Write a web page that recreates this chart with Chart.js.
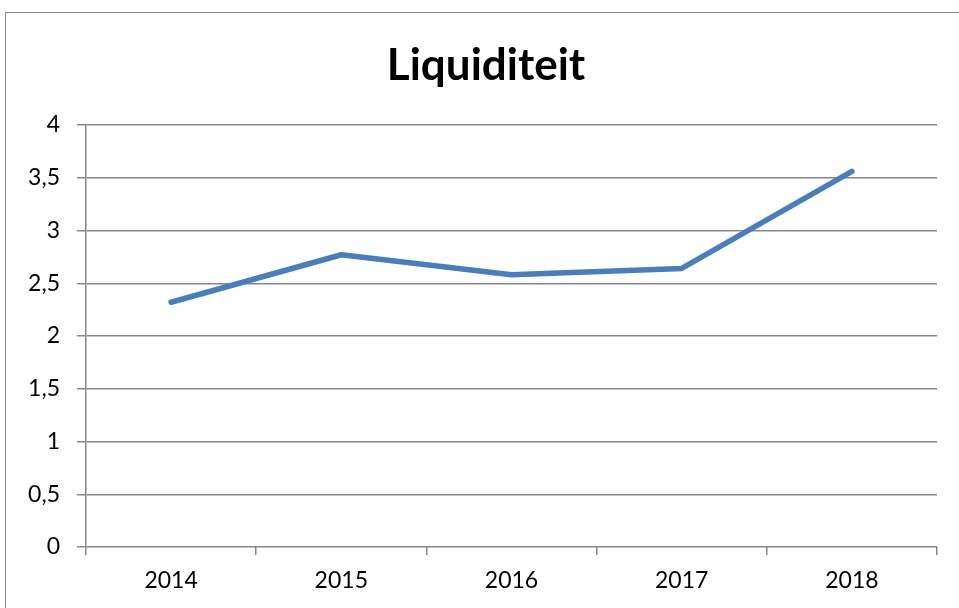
<!DOCTYPE html>
<html>
<head>
<meta charset="utf-8">
<script src="https://cdn.jsdelivr.net/npm/chart.js@4"></script>
<style>
html,body{margin:0;padding:0;background:#fff;}
#wrap{position:relative;width:959px;height:608px;overflow:hidden;}
#frame{position:absolute;left:5px;top:12px;width:1000px;height:700px;border:1.5px solid #8c8c8c;box-sizing:border-box;}
canvas{position:absolute;left:0;top:0;}
</style>
</head>
<body>
<div id="wrap">
<div id="frame"></div>
<canvas id="c" width="959" height="608"></canvas>
</div>
<script>
const title = "Liquiditeit";
const categories = ["2014", "2015", "2016", "2017", "2018"];
const values = [2.32, 2.77, 2.58, 2.64, 3.56];
const yTicks = [0, 0.5, 1, 1.5, 2, 2.5, 3, 3.5, 4];

const FONT = "Lato";

const titlePlugin = {
  id: 'chartTitle',
  afterDraw(chart) {
    const ctx = chart.ctx;
    ctx.save();
    ctx.font = 'bold 44px ' + FONT;
    ctx.fillStyle = '#000';
    ctx.textAlign = 'center';
    ctx.textBaseline = 'alphabetic';
    ctx.fillText(title, 486, 80);
    ctx.restore();
  }
};

new Chart(document.getElementById('c'), {
  type: 'line',
  data: {
    labels: categories,
    datasets: [{
      data: values,
      borderColor: '#4a7ebb',
      borderWidth: 5.5,
      pointRadius: 0,
      pointHoverRadius: 0,
      tension: 0,
      fill: false,
      borderCapStyle: 'round',
      borderJoinStyle: 'round'
    }]
  },
  plugins: [titlePlugin],
  options: {
    responsive: false,
    animation: false,
    devicePixelRatio: 1,
    layout: { padding: { left: 0, right: 22, top: 125, bottom: 0 } },
    plugins: {
      legend: { display: false },
      tooltip: { enabled: false },
      title: { display: false }
    },
    scales: {
      x: {
        offset: true,
        grid: { offset: true, drawOnChartArea: false, drawTicks: true, tickLength: 8, color: '#878787', lineWidth: 1.5 },
        border: { display: false },
        ticks: { color: '#000', font: { family: FONT, size: 23 }, padding: 12, maxRotation: 0 },
        afterFit: s => { s.height = 61; }
      },
      y: {
        min: 0, max: 4,
        afterBuildTicks: s => { s.ticks = yTicks.map(v => ({ value: v })); },
        grid: { color: '#878787', lineWidth: 1.5, tickLength: 9 },
        border: { display: true, color: '#878787', width: 1.5 },
        ticks: {
          color: '#000',
          font: { family: FONT, size: 23 },
          padding: 17,
          callback: v => String(v).replace('.', ',')
        },
        afterFit: s => { s.width = 86; }
      }
    }
  }
});
</script>
</body>
</html>
